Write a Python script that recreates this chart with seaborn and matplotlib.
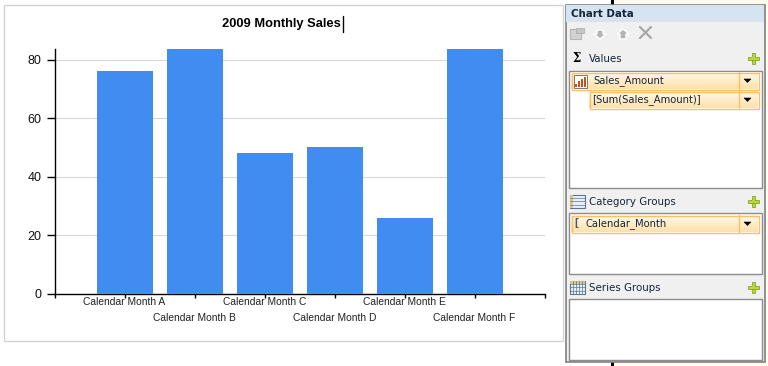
import matplotlib
matplotlib.use("Agg")
import matplotlib.pyplot as plt
import numpy as np
import seaborn as sns
from matplotlib.patches import Rectangle, Polygon

months = ["Calendar Month A", "Calendar Month B", "Calendar Month C",
          "Calendar Month D", "Calendar Month E", "Calendar Month F"]
sales = [76, 83.6, 48, 50, 26, 83.6]
y_ticks = [0, 20, 40, 60, 80]

sns.set_theme(style="white")
plt.rcParams["font.family"] = ["Liberation Sans", "DejaVu Sans"]

W, H = 768, 366
fig = plt.figure(figsize=(W / 100, H / 100), dpi=100, facecolor="white")

# pixel overlay for the frame
bg = fig.add_axes([0, 0, 1, 1], zorder=0)
bg.set_xlim(0, W); bg.set_ylim(H, 0); bg.axis("off")
bg.add_patch(Rectangle((3.5, 4.5), 559, 336, fc="white", ec="#d4d4d4", lw=1))
bg.plot([342.5, 342.5], [16, 32], color="black", lw=1)
bg.text(281, 24.5, "2009 Monthly Sales", ha="center", va="center", fontsize=9.3,
        fontweight="bold", color="black")

# main chart
ax = fig.add_axes([54.6 / W, 1 - 294 / H, 490 / W, 245 / H], zorder=1)
ax.patch.set_alpha(0)
sns.barplot(x=months, y=sales, color="#418CF0", saturation=1, width=0.8, ax=ax,
            zorder=3, linewidth=0, edgecolor="none")
ax.set_ylim(0, 83.6)
ax.set_yticks(y_ticks)
ax.set_yticklabels([str(v) for v in y_ticks], fontsize=9, color="#111111")
ax.yaxis.grid(True, color="#d8d8d8", lw=0.8, zorder=0)
ax.xaxis.grid(False)
ax.set_axisbelow(True)
for s in ["top", "right"]:
    ax.spines[s].set_visible(False)
for s in ["left", "bottom"]:
    ax.spines[s].set_color("black")
    ax.spines[s].set_linewidth(1)
ax.tick_params(axis="y", length=6, width=1, color="black", left=True, pad=3.5)
ax.set_xticks(range(-1, len(months) + 1))
ax.set_xticklabels([""] + months + [""], fontsize=7.4, color="#222222")
ax.set_xlim(-1, 6)
ax.tick_params(axis="x", length=3, width=1, color="black", bottom=True)
for i, tick in enumerate(ax.xaxis.get_major_ticks()):
    tick.set_pad(-0.5 if i % 2 == 1 else 10.5)
ax.set_xlabel(""); ax.set_ylabel("")

# side panel, on top
p = fig.add_axes([0, 0, 1, 1], zorder=2)
p.set_xlim(0, W); p.set_ylim(H, 0); p.axis("off"); p.patch.set_alpha(0)
p.add_patch(Rectangle((613, 0), 155, H, fc="#FFFBEF", ec="none"))
p.add_patch(Rectangle((610.5, 0), 3, 6, fc="black", ec="none"))
p.add_patch(Rectangle((610.5, 361), 3, 5, fc="black", ec="none"))
p.add_patch(Rectangle((565.5, 4.5), 199, 357.5, fc="#F0F0F0", ec="#808080", lw=1.2))
p.add_patch(Rectangle((566, 5), 198, 17, fc="#D6E4F2", ec="none"))
p.text(571, 14, "Chart Data", fontsize=7.4, fontweight="bold", color="#15263a",
       va="center", family="DejaVu Sans")

for y0, y1 in [(70, 187), (212, 273), (298, 359)]:
    p.add_patch(Rectangle((568.5, y0 + .5), 193, y1 - y0, fc="white", ec="#8c8c8c", lw=1))

def head(y, label):
    p.text(589, y, label, fontsize=7.4, va="center", color="#16263a", family="DejaVu Sans")
    p.add_patch(Rectangle((751.5, y - 6), 3.5, 11, fc="#b9d63c", ec="#8aa626", lw=.6))
    p.add_patch(Rectangle((747.5, y - 2.2), 11.5, 3.5, fc="#b9d63c", ec="#8aa626", lw=.6))
    p.add_patch(Rectangle((751.9, y - 1.8), 2.7, 2.8, fc="#b9d63c", ec="none"))

p.text(577, 59, "Σ", fontsize=8.5, fontweight="bold", ha="center", va="center",
       color="black", family="DejaVu Serif")
head(59, "Values")
head(202, "Category Groups")
head(288, "Series Groups")

# disabled toolbar icons
p.add_patch(Rectangle((570, 29), 11, 10, fc="#d2d2d2", ec="#b5b5b5", lw=.8))
p.add_patch(Rectangle((576, 28), 8, 5, fc="#c4c4c4", ec="#b0b0b0", lw=.6))
p.add_patch(Polygon([(597, 30), (603, 30), (603, 34), (606, 34), (600, 39), (594, 34), (597, 34)], fc="#b4b4b4"))
p.add_patch(Polygon([(620, 39), (626, 39), (626, 34), (629, 34), (623, 29), (617, 34), (620, 34)], fc="#b4b4b4"))
p.plot([640, 651], [27, 38], color="#a8a8a8", lw=1.6)
p.plot([651, 640], [27, 38], color="#a8a8a8", lw=1.6)

grad = np.linspace(0, 1, 32)[:, None, None]
top = np.array([1.0, 0.98, 0.93])
bot = np.array([1.0, 0.88, 0.66])
grad_img = top + (bot - top) * grad

def row(x0, x1, y0, y1, label, tx):
    p.imshow(grad_img, extent=(x0, x1, y1, y0), aspect="auto", zorder=2)
    p.add_patch(Rectangle((x0 + .5, y0 + .5), x1 - x0, y1 - y0, fc="none", ec="#FDBE64", lw=1, zorder=3))
    p.plot([x1 - 20 + .5] * 2, [y0, y1], color="#FDBE64", lw=1, zorder=3)
    ym = (y0 + y1) / 2
    p.add_patch(Polygon([(x1 - 14, ym - 1.5), (x1 - 7, ym - 1.5), (x1 - 10.5, ym + 2)],
                        fc="black", ec="black", lw=.4, zorder=4))
    p.text(tx, ym, label, fontsize=7.2, va="center", color="#16263a", family="DejaVu Sans", zorder=4)

row(571, 758, 72, 89, "Sales_Amount", 593)
row(589, 758, 91, 108, "[Sum(Sales_Amount)]", 592)
row(571, 758, 215, 232, "Calendar_Month", 586)
p.text(576, 223.5, "[", fontsize=8, fontweight="bold", va="center", ha="center", color="#555555", zorder=4)
p.set_xlim(0, W); p.set_ylim(H, 0)

# series icon
p.add_patch(Rectangle((573.5, 74.5), 13, 13, fc="white", ec="#777777", lw=.7, zorder=4))
for bx, bh in zip([575, 578, 581, 584], [3, 6, 8, 10]):
    p.add_patch(Rectangle((bx, 86.5 - bh), 2, bh, fc="#c8501e", ec="none", zorder=5))

# table icons
for y, n_v in [(202, 0), (288, 5)]:
    p.add_patch(Rectangle((569.5, y - 7), 15, 13, fc="#e9eff7", ec="#5e7590", lw=.8))
    p.add_patch(Rectangle((569.5, y - 7), 15 if n_v else 3.5, 3 if n_v else 13, fc="#d9c48c", ec="none"))
    for k in range(1, 4):
        p.plot([569.5, 584.5], [y - 7 + k * 3.2] * 2, color="#5e7590", lw=.5)
    for k in range(1, n_v):
        p.plot([569.5 + k * 3] * 2, [y - 7, y + 6], color="#5e7590", lw=.5)

fig.savefig("out.png", dpi=100)
